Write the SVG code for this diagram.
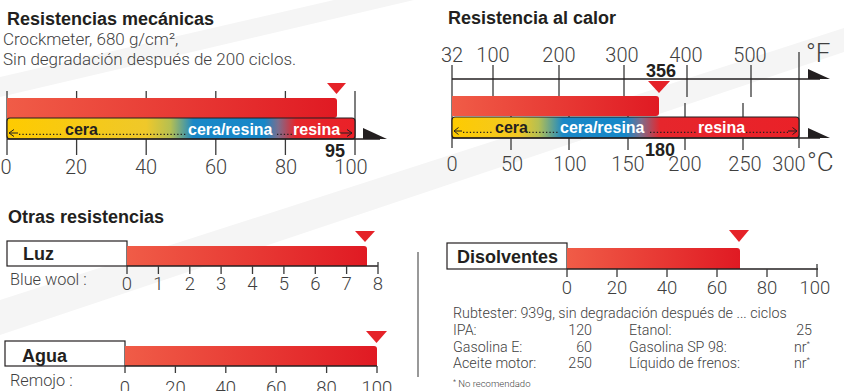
<svg xmlns="http://www.w3.org/2000/svg" width="844" height="391" viewBox="0 0 844 391">
<style>
text{font-family:"Liberation Sans",Arial,sans-serif}
.title{font-size:18px;font-weight:bold;fill:#231f20}
.lt{font-family:Roboto,"Liberation Sans",Arial,sans-serif;font-weight:300}
.sub{font-size:17px;fill:#3f3f3f}
.sub2{font-size:16.3px;fill:#3f3f3f}
.num{font-size:20px;fill:#3f3f3f;text-anchor:middle}
.num2{font-size:18.5px;fill:#3f3f3f;text-anchor:middle}
.val{font-size:18px;font-weight:bold;fill:#231f20;text-anchor:middle}
.band{font-size:16px;font-weight:bold}
.dk{fill:#231f20}
.wh{fill:#ffffff}
.lbl{font-size:18px;font-weight:bold;fill:#231f20}
.small{font-size:14.3px;fill:#3f3f3f}
.tick{stroke:#3a3a3a;stroke-width:1.3;fill:none}
.axis{stroke:#231f20;stroke-width:1.3;fill:none}
.dots{stroke:#231f20;stroke-width:1.3;stroke-dasharray:1.3 2.1;fill:none}
.arr{stroke:#231f20;stroke-width:1;fill:none}
.mark{fill:#e52228}
.box{fill:#ffffff;stroke:#231f20;stroke-width:1.2}
.wedge{fill:#231f20}
</style>
<defs>
<linearGradient id="red" x1="0" y1="0" x2="1" y2="0">
<stop offset="0" stop-color="#f05c47"/>
<stop offset="1" stop-color="#e01a23"/>
</linearGradient>
<linearGradient id="bandL" x1="0" y1="0" x2="1" y2="0">
<stop offset="0" stop-color="#fecb00"/>
<stop offset="0.40" stop-color="#efc82a"/>
<stop offset="0.47" stop-color="#b5bf52"/>
<stop offset="0.535" stop-color="#1a88c7"/>
<stop offset="0.74" stop-color="#1687c8"/>
<stop offset="0.78" stop-color="#7d6d8c"/>
<stop offset="0.83" stop-color="#e6262c"/>
<stop offset="1" stop-color="#ea2128"/>
</linearGradient>
<linearGradient id="bandR" x1="0" y1="0" x2="1" y2="0">
<stop offset="0" stop-color="#fecb00"/>
<stop offset="0.19" stop-color="#f2c824"/>
<stop offset="0.25" stop-color="#b5bf52"/>
<stop offset="0.32" stop-color="#1a88c7"/>
<stop offset="0.50" stop-color="#1687c8"/>
<stop offset="0.545" stop-color="#7d6d8c"/>
<stop offset="0.60" stop-color="#e6262c"/>
<stop offset="1" stop-color="#ea2128"/>
</linearGradient>
</defs>
<rect width="844" height="391" fill="#ffffff"/>
<g id="background">
<polygon points="0,77 0,97 414,0 334,0" fill="#f5f5f5"/>
<polygon points="0,300 0,335 844,52 844,28" fill="#f5f5f5"/>
</g>

<g id="mecanicas">
<text class="title" x="7" y="25">Resistencias mecánicas</text>
<text class="lt sub" x="3" y="45">Crockmeter, 680 g/cm², </text>
<text class="lt sub" x="3" y="65">Sin degradación después de 200 ciclos.</text>
<path class="tick" d="M7 91V155M76.6 91V155M146.2 91V155M215.8 91V155M285.4 91V155M355 91V155"/>
<path d="M7 98H334A3 3 0 0 1 337 101V115A3 3 0 0 1 334 118H7Z" fill="url(#red)"/>
<polygon class="mark" points="327,83 346,83 336.5,94"/>
<rect x="7" y="118" width="348" height="21" rx="3" fill="url(#bandL)" stroke="#231f20" stroke-width="1.2"/>
<path class="axis" d="M7 139H380"/>
<polygon class="wedge" points="363,128 387,139 363,139"/>
<path class="dots" d="M19 134.3H63M99 134.3H186M277 134.3H292"/>
<path class="arr" d="M18 133H9M14 129.5L9 133L14 136.5M340 133H352M347 129.5L352 133L347 136.5"/>
<text class="band dk" x="65" y="135">cera</text>
<text class="band wh" x="188" y="135">cera/resina</text>
<text class="band wh" x="293" y="135">resina</text>
<text class="val" x="335" y="157">95</text>
<text class="lt num" x="6" y="174">0</text>
<text class="lt num" x="76" y="174">20</text>
<text class="lt num" x="146" y="174">40</text>
<text class="lt num" x="216" y="174">60</text>
<text class="lt num" x="286" y="174">80</text>
<text class="lt num" x="351" y="174">100</text>
</g>

<g id="calor">
<text class="title" x="448" y="24">Resistencia al calor</text>
<path class="tick" d="M452 65V148M799 52V148M493 65V97M559 65V97M624 65V97M687 65V97M751 65V97M511 103V150M569 103V150M628 103V150M685 103V150M743 103V150"/>
<path class="axis" d="M452 79H820"/>
<polygon class="wedge" points="808,69 830,79 808,79"/>
<path d="M452 96H656A3 3 0 0 1 659 99V113A3 3 0 0 1 656 116H452Z" fill="url(#red)"/>
<polygon class="mark" points="648,81 670,81 659,93"/>
<rect x="452" y="117" width="347" height="21" rx="3" fill="url(#bandR)" stroke="#231f20" stroke-width="1.2"/>
<path class="axis" d="M452 138H820"/>
<polygon class="wedge" points="808,128 830,138 808,138"/>
<path class="dots" d="M463 132.3H493M529 132.3H559M650 132.3H697M746 132.3H788"/>
<path class="arr" d="M462 131H454M458.5 127.5L454 131L458.5 134.5M788 131H797M792.5 127.5L797 131L792.5 134.5"/>
<text class="band dk" x="495" y="133">cera</text>
<text class="band wh" x="560" y="133">cera/resina</text>
<text class="band wh" x="698" y="133">resina</text>
<text class="val" x="661" y="77">356</text>
<text class="val" x="660" y="156">180</text>
<text class="lt num" x="452" y="62">32</text>
<text class="lt num" x="493" y="62">100</text>
<text class="lt num" x="559" y="62">200</text>
<text class="lt num" x="622" y="62">300</text>
<text class="lt num" x="686" y="62">400</text>
<text class="lt num" x="750" y="62">500</text>
<text class="lt" x="806" y="62" style="font-size:26px;fill:#3f3f3f">°F</text>
<text class="lt num" x="452" y="171">0</text>
<text class="lt num" x="512" y="171">50</text>
<text class="lt num" x="570" y="171">100</text>
<text class="lt num" x="628" y="171">150</text>
<text class="lt num" x="685" y="171">200</text>
<text class="lt num" x="745" y="171">250</text>
<text class="lt num" x="789" y="171">300</text>
<text class="lt" x="807" y="171" style="font-size:26px;fill:#3f3f3f">°C</text>
</g>

<g id="otras">
<text class="title" x="8" y="223">Otras resistencias</text>
</g>

<g id="luz">
<rect class="box" x="7" y="241" width="120" height="25"/>
<text class="lbl" x="23" y="260">Luz</text>
<path d="M127 246H364A3 3 0 0 1 367 249V266H127Z" fill="url(#red)"/>
<polygon class="mark" points="355,231 375,231 365,242"/>
<path class="axis" d="M127 266H378"/>
<path class="tick" d="M127 266V274M158.4 266V274M189.8 266V274M221.1 266V274M252.5 266V274M283.9 266V274M315.3 266V274M346.6 266V274M378 262V274"/>
<text class="lt sub2" x="10" y="285">Blue wool :</text>
<text class="lt num2" x="127" y="290">0</text>
<text class="lt num2" x="158.4" y="290">1</text>
<text class="lt num2" x="189.8" y="290">2</text>
<text class="lt num2" x="221.1" y="290">3</text>
<text class="lt num2" x="252.5" y="290">4</text>
<text class="lt num2" x="283.9" y="290">5</text>
<text class="lt num2" x="315.3" y="290">6</text>
<text class="lt num2" x="346.6" y="290">7</text>
<text class="lt num2" x="378" y="290">8</text>
</g>

<g id="agua">
<rect class="box" x="5" y="341" width="120" height="25"/>
<text class="lbl" x="22" y="362">Agua</text>
<path d="M125 346H374A3 3 0 0 1 377 349V366H125Z" fill="url(#red)"/>
<polygon class="mark" points="366,331 387,331 376.5,343"/>
<path class="axis" d="M125 366H377"/>
<path class="tick" d="M125 366V373M175.4 366V373M225.8 366V373M276.2 366V373M326.6 366V373M377 366V373"/>
<text class="lt sub2" x="10" y="386">Remojo :</text>
<text class="lt num2" x="125" y="394">0</text>
<text class="lt num2" x="175.4" y="394">20</text>
<text class="lt num2" x="225.8" y="394">40</text>
<text class="lt num2" x="276.2" y="394">60</text>
<text class="lt num2" x="326.6" y="394">80</text>
<text class="lt num2" x="377" y="394">100</text>
</g>

<g id="divider">
<path d="M418 252V377" stroke="#555555" stroke-width="1.2"/>
</g>

<g id="disolventes">
<rect class="box" x="447" y="243" width="120" height="26"/>
<text class="lbl" x="457" y="263">Disolventes</text>
<path d="M567 248H737A3 3 0 0 1 740 251V269H567Z" fill="url(#red)"/>
<polygon class="mark" points="729,230 749,230 739,242"/>
<path class="axis" d="M567 269H818"/>
<path class="tick" d="M567 269V277M617 269V277M667 269V277M717 269V277M767 269V277M817 264V277"/>
<text class="lt num2" x="567" y="294">0</text>
<text class="lt num2" x="617" y="294">20</text>
<text class="lt num2" x="667" y="294">40</text>
<text class="lt num2" x="717" y="294">60</text>
<text class="lt num2" x="767" y="294">80</text>
<text class="lt num2" x="815" y="294">100</text>
</g>

<g id="rubtester">
<text class="lt small" x="453" y="318">Rubtester: 939g, sin degradación después de ... ciclos</text>
<text class="lt small" x="453" y="335">IPA:</text>
<text class="lt small" x="592" y="335" text-anchor="end">120</text>
<text class="lt small" x="629" y="335">Etanol:</text>
<text class="lt small" x="812" y="335" text-anchor="end">25</text>
<text class="lt small" x="453" y="352">Gasolina E:</text>
<text class="lt small" x="592" y="352" text-anchor="end">60</text>
<text class="lt small" x="629" y="352">Gasolina SP 98:</text>
<text class="lt small" x="810" y="352" text-anchor="end">nr<tspan font-size="8" dy="-6">*</tspan></text>
<text class="lt small" x="453" y="368">Aceite motor:</text>
<text class="lt small" x="592" y="368" text-anchor="end">250</text>
<text class="lt small" x="629" y="368">Líquido de frenos:</text>
<text class="lt small" x="810" y="368" text-anchor="end">nr<tspan font-size="8" dy="-6">*</tspan></text>
<text class="lt" x="453" y="387" style="font-size:9.5px;fill:#3f3f3f"><tspan font-size="7" dy="-3">*</tspan><tspan dy="3"> No recomendado</tspan></text>
</g>
</svg>
